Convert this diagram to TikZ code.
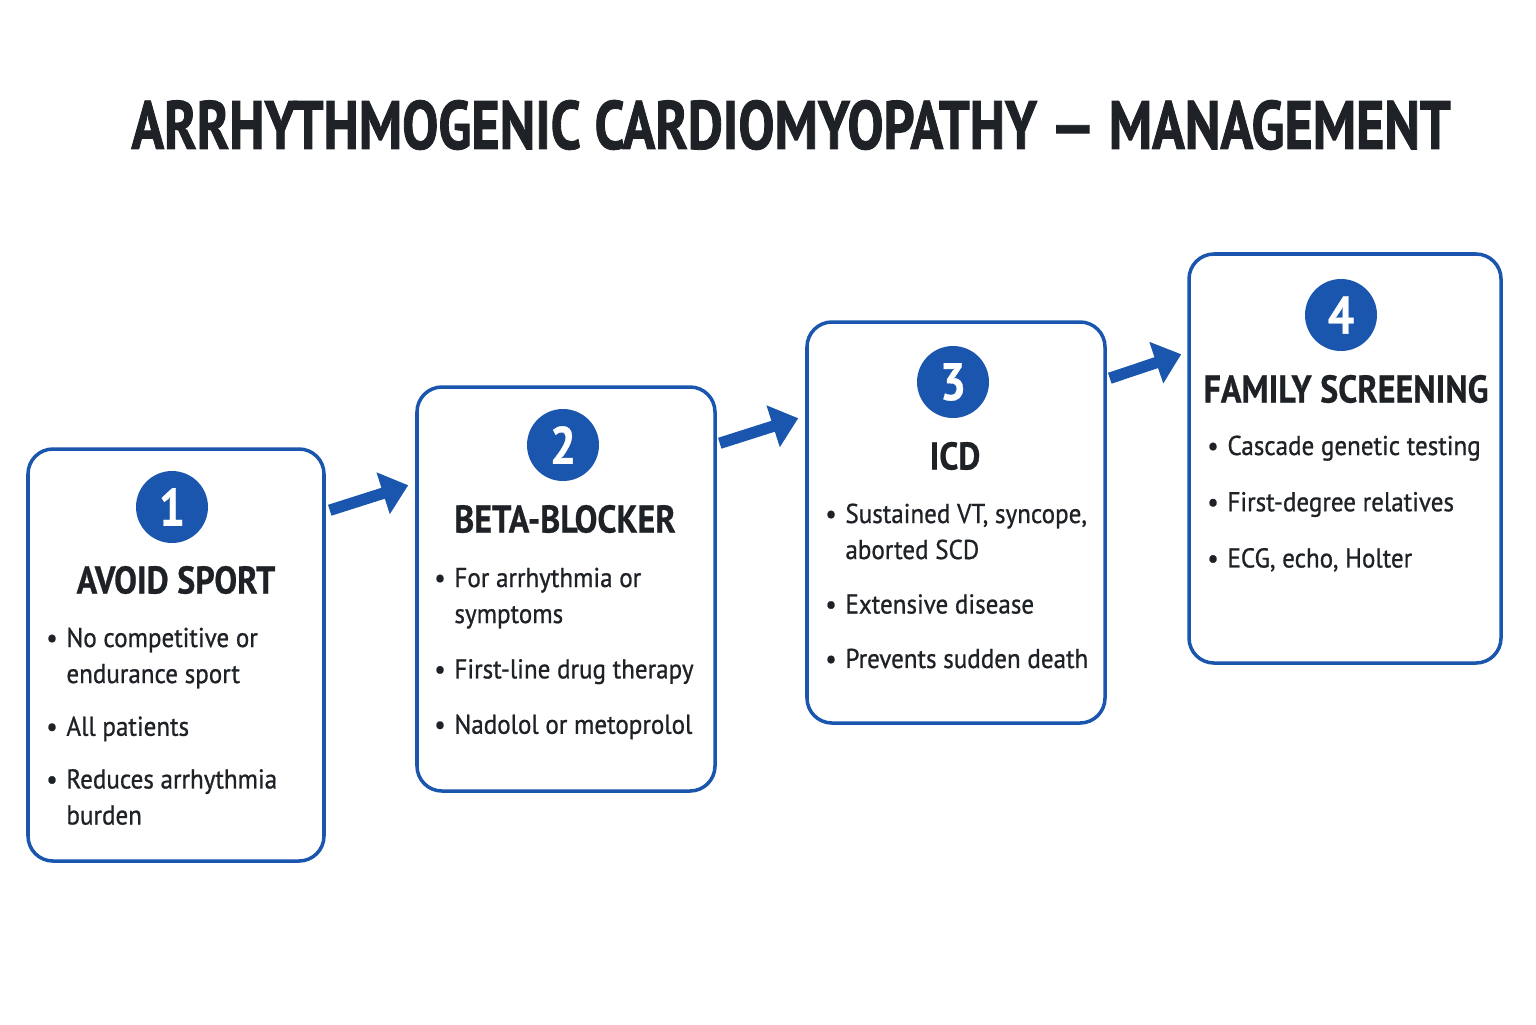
\documentclass[tikz,border=0pt]{standalone}
\usepackage{fontspec}
\setmainfont{PT Sans}[FakeStretch=0.92, FakeBold=0.8]
\newfontfamily\titolofont{PT Sans}[FakeStretch=0.79, FakeBold=1.2]
\newfontfamily\testatafont{PT Sans}[FakeStretch=0.88, FakeBold=0.6]
\usetikzlibrary{arrows.meta}
\definecolor{blu}{HTML}{1A56AE}
\definecolor{scuro}{HTML}{1E2226}
\tikzset{
    riquadro/.style={draw=blu, line width=2pt, rounded corners=0.5cm, fill=white, inner sep=0pt},
    numero/.style={circle, fill=blu, text=white, minimum size=1.44cm, inner sep=0pt,
        font=\testatafont\fontsize{30}{30}\selectfont\bfseries},
    intestazione/.style={text=scuro, inner sep=0pt, font=\testatafont\fontsize{22}{24}\selectfont\bfseries},
    elenco/.style={text=scuro, inner sep=0pt, anchor=base west, font=\fontsize{15.5}{20.5}\selectfont},
    freccia/.style={draw=blu, line width=6.5pt, -{Triangle[length=15pt, width=24pt]}}
}
\newcommand{\voce}{\textbullet}
\begin{document}
\begin{tikzpicture}[x=0.2mm, y=-0.2mm]
    \useasboundingbox (0,0) rectangle (1536,1024);

    %%%%%%%%%% Titolo %%%%%%%%%%
    \node[text=scuro, inner sep=0pt, font=\titolofont\fontsize{39}{40}\selectfont\bfseries]
        (titolo) at (791,125) {ARRHYTHMOGENIC CARDIOMYOPATHY — MANAGEMENT};

    %%%%%%%%%% Riquadri %%%%%%%%%%
    \node[riquadro, minimum width=5.92cm, minimum height=8.24cm] (b1) at (176,655) {};
    \node[riquadro, minimum width=5.96cm, minimum height=8.08cm] (b2) at (566,589) {};
    \node[riquadro, minimum width=5.96cm, minimum height=8.02cm] (b3) at (956,522.5) {};
    \node[riquadro, minimum width=6.24cm, minimum height=8.18cm] (b4) at (1345,458.5) {};

    %%%%%%%%%% Numeri %%%%%%%%%%
    \node[numero] (n1) at (172,507) {1};
    \node[numero] (n2) at (563,445) {2};
    \node[numero] (n3) at (953,382) {3};
    \node[numero] (n4) at (1341,315) {4};

    %%%%%%%%%% Intestazioni %%%%%%%%%%
    \node[intestazione] (t1) at (176,580) {AVOID SPORT};
    \node[intestazione] (t2) at (565,519) {BETA-BLOCKER};
    \node[intestazione] (t3) at (955,456) {ICD};
    \node[intestazione] (t4) at (1346,389) {FAMILY SCREENING};

    %%%%%%%%%% Elenchi %%%%%%%%%%
    \node[elenco] (e1) at (46,647) {\begin{tabular}[t]{@{}l@{\hspace{5pt}}l@{}}
        \voce & No competitive or\\ & endurance sport\\[9.5pt]
        \voce & All patients\\[9.5pt]
        \voce & Reduces arrhythmia\\ & burden
    \end{tabular}};
    \node[elenco] (e2) at (434,587) {\begin{tabular}[t]{@{}l@{\hspace{5pt}}l@{}}
        \voce & For arrhythmia or\\ & symptoms\\[11pt]
        \voce & First-line drug therapy\\[11pt]
        \voce & Nadolol or metoprolol
    \end{tabular}};
    \node[elenco] (e3) at (825,523) {\begin{tabular}[t]{@{}l@{\hspace{5pt}}l@{}}
        \voce & Sustained VT, syncope,\\ & aborted SCD\\[10.5pt]
        \voce & Extensive disease\\[10.5pt]
        \voce & Prevents sudden death
    \end{tabular}};
    \node[elenco] (e4) at (1207,455) {\begin{tabular}[t]{@{}l@{\hspace{5pt}}l@{}}
        \voce & Cascade genetic testing\\[11.5pt]
        \voce & First-degree relatives\\[11.5pt]
        \voce & ECG, echo, Holter
    \end{tabular}};

    %%%%%%%%%% Frecce %%%%%%%%%%
    \draw[freccia] ([shift={(4,63)}]b1.north east) -- ([shift={(-7,100)}]b2.north west);
    \draw[freccia] ([shift={(3,58)}]b2.north east) -- ([shift={(-7,98)}]b3.north west);
    \draw[freccia] ([shift={(3,58)}]b3.north east) -- ([shift={(-6,102)}]b4.north west);
\end{tikzpicture}
\end{document}
